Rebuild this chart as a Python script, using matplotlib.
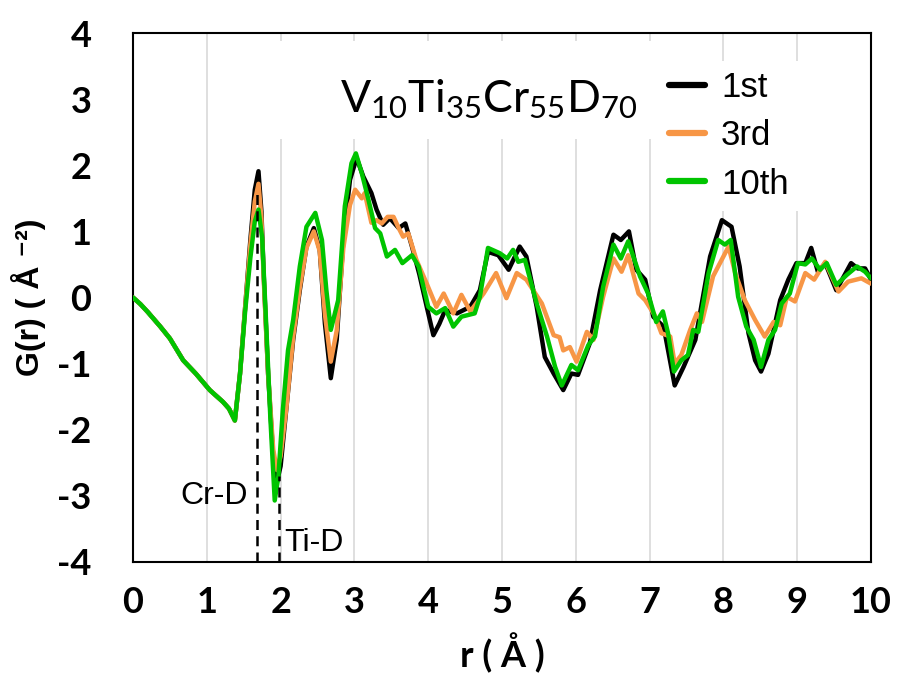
import matplotlib
matplotlib.use("Agg")
import matplotlib.pyplot as plt
from matplotlib.patches import Rectangle

plt.rcParams["mathtext.fontset"] = "custom"
plt.rcParams["mathtext.rm"] = "Lato"

# shared low-r part (all three cycles overlap)
r_common = [0.00, 0.10, 0.20, 0.37, 0.50, 0.68, 0.85, 1.04, 1.22, 1.30, 1.38]
g_common = [0.00, -0.10, -0.22, -0.44, -0.62, -0.95, -1.15, -1.40, -1.58, -1.68, -1.86]

r_1st = [1.45, 1.52, 1.59, 1.65, 1.70, 1.74, 1.77, 1.83, 1.90, 1.95, 2.00, 2.08,
         2.17, 2.26, 2.35, 2.45, 2.53, 2.60, 2.68, 2.76, 2.85, 2.94, 3.03, 3.12,
         3.23, 3.30, 3.39, 3.48, 3.60, 3.69, 3.78, 3.88, 3.98, 4.07, 4.15, 4.23,
         4.39, 4.57, 4.70, 4.81, 4.95, 5.09, 5.24, 5.33, 5.47, 5.58, 5.70, 5.83,
         5.94, 6.03, 6.19, 6.33, 6.51, 6.61, 6.72, 6.82, 6.94, 7.05, 7.19, 7.34,
         7.46, 7.62, 7.82, 7.98, 8.11, 8.22, 8.34, 8.43, 8.51, 8.61, 8.77, 8.88,
         8.99, 9.11, 9.19, 9.28, 9.38, 9.53, 9.73, 9.82, 9.92, 10.0]
g_1st = [-1.15, -0.14, 0.87, 1.63, 1.91, 1.30, 0.37, -1.15, -2.41, -2.79, -2.55, -1.65,
         -0.64, 0.11, 0.77, 1.05, 0.72, -0.39, -1.22, -0.64, 0.87, 1.78, 2.11, 1.83,
         1.58, 1.33, 1.10, 1.20, 1.05, 1.12, 0.77, 0.35, -0.14, -0.57, -0.40, -0.19,
         -0.24, -0.14, 0.11, 0.69, 0.64, 0.42, 0.77, 0.62, -0.14, -0.90, -1.15, -1.40,
         -1.15, -1.17, -0.69, 0.11, 0.95, 0.87, 1.00, 0.42, 0.27, -0.29, -0.44, -1.33,
         -1.05, -0.64, 0.62, 1.17, 1.07, 0.47, -0.54, -0.95, -1.12, -0.85, -0.04, 0.27,
         0.52, 0.52, 0.75, 0.39, 0.52, 0.11, 0.52, 0.44, 0.44, 0.27]

r_3rd = [1.45, 1.52, 1.59, 1.65, 1.70, 1.74, 1.77, 1.83, 1.90, 1.95, 2.00, 2.08,
         2.17, 2.26, 2.35, 2.45, 2.53, 2.60, 2.68, 2.76, 2.85, 2.94, 3.01, 3.10,
         3.14, 3.23, 3.30, 3.37, 3.45, 3.53, 3.60, 3.66, 3.73, 3.84, 3.98, 4.11,
         4.21, 4.34, 4.45, 4.57, 4.75, 4.92, 5.06, 5.20, 5.33, 5.54, 5.70, 5.78,
         5.83, 5.92, 6.01, 6.15, 6.24, 6.37, 6.51, 6.62, 6.71, 6.85, 6.94, 7.07,
         7.16, 7.28, 7.34, 7.43, 7.55, 7.64, 7.71, 7.86, 8.07, 8.16, 8.29, 8.43,
         8.56, 8.68, 8.77, 8.86, 8.97, 9.11, 9.23, 9.38, 9.56, 9.69, 9.87, 10.0]
g_3rd = [-1.15, -0.14, 0.80, 1.45, 1.72, 1.20, 0.30, -1.15, -2.30, -2.61, -2.40, -1.65,
         -0.60, 0.15, 0.75, 1.00, 0.70, -0.25, -0.97, -0.50, 0.75, 1.40, 1.63, 1.50,
         1.58, 1.13, 1.17, 1.12, 1.22, 1.22, 1.05, 0.92, 0.97, 0.57, 0.21, -0.14,
         0.06, -0.24, 0.04, -0.21, 0.06, 0.37, -0.01, 0.37, 0.27, -0.09, -0.57, -0.60,
         -0.80, -0.75, -0.97, -0.52, -0.64, 0.01, 0.59, 0.39, 0.64, 0.06, -0.04, -0.27,
         -0.54, -0.59, -1.00, -0.87, -0.49, -0.24, -0.37, 0.32, 0.77, 0.37, -0.04, -0.34,
         -0.59, -0.37, -0.42, 0.01, -0.06, 0.37, 0.27, 0.54, 0.09, 0.24, 0.29, 0.21]

r_10th = [1.45, 1.52, 1.59, 1.65, 1.70, 1.75, 1.80, 1.86, 1.92, 1.97, 2.03, 2.10,
          2.17, 2.26, 2.35, 2.47, 2.56, 2.62, 2.68, 2.78, 2.87, 2.96, 3.02, 3.10,
          3.19, 3.28, 3.35, 3.44, 3.55, 3.65, 3.78, 3.87, 4.00, 4.11, 4.23, 4.34,
          4.45, 4.63, 4.70, 4.81, 4.97, 5.07, 5.15, 5.22, 5.31, 5.47, 5.61, 5.72,
          5.81, 5.94, 6.03, 6.17, 6.26, 6.37, 6.51, 6.61, 6.71, 6.87, 6.98, 7.09,
          7.18, 7.25, 7.33, 7.43, 7.52, 7.59, 7.66, 7.80, 7.93, 8.02, 8.10, 8.20,
          8.31, 8.41, 8.51, 8.61, 8.70, 8.79, 8.90, 9.01, 9.11, 9.20, 9.31, 9.40,
          9.53, 9.67, 9.81, 9.92, 10.0]
g_10th = [-1.15, -0.20, 0.60, 1.15, 1.33, 0.90, -0.30, -1.80, -3.07, -2.70, -1.70, -0.80,
          -0.34, 0.47, 1.07, 1.28, 0.87, 0.11, -0.49, -0.04, 1.38, 2.03, 2.18, 1.88,
          1.48, 1.05, 0.97, 0.62, 0.72, 0.52, 0.64, 0.47, -0.14, -0.24, -0.16, -0.44,
          -0.29, -0.24, 0.01, 0.75, 0.67, 0.59, 0.72, 0.54, 0.57, -0.09, -0.59, -1.05,
          -1.33, -1.02, -1.10, -0.72, -0.59, 0.16, 0.80, 0.59, 0.85, 0.32, 0.06, -0.37,
          -0.21, -0.54, -1.12, -0.95, -0.87, -0.49, -0.52, 0.37, 0.87, 0.80, 0.87, 0.01,
          -0.44, -0.64, -1.05, -0.64, -0.49, -0.09, 0.06, 0.52, 0.50, 0.59, 0.42, 0.52,
          0.19, 0.34, 0.47, 0.39, 0.29]

# bond markers
bond_r = [1.68, 1.98]
bond_top = [1.6, -2.7]
bond_labels = ["Cr-D", "Ti-D"]

xticks = list(range(0, 11))
yticks = list(range(-4, 5))

fig = plt.figure(figsize=(8.97, 6.91), dpi=100)
ax = fig.add_axes([0.1483, 0.1867, 0.8227, 0.7655])

line_kw = dict(lw=3.2, solid_joinstyle="round", solid_capstyle="round")
ax.plot(r_common + r_1st, g_common + g_1st, color="black", label="1st", zorder=3, **line_kw)
ax.plot(r_common + r_3rd, g_common + g_3rd, color="#F79646", label="3rd", zorder=3, **line_kw)
ax.plot(r_common + r_10th, g_common + g_10th, color="#00C400", label="10th", zorder=4, **line_kw)

ax.vlines(bond_r, -4, bond_top, colors="black", linestyles=(0, (4, 2.5)), lw=1.8, zorder=5)
ax.text(bond_r[0] - 0.12, -3.0, bond_labels[0], ha="right", va="center",
        fontsize=23, family="Liberation Sans")
ax.text(bond_r[1] + 0.07, -3.72, bond_labels[1], ha="left", va="center",
        fontsize=23, family="Liberation Sans")

ax.set_xlim(0, 10)
ax.set_ylim(-4, 4)
ax.set_xticks(xticks)
ax.set_yticks(yticks)
ax.set_xticklabels([str(v) for v in xticks], family="Lato", weight="bold", fontsize=26)
ax.set_yticklabels([str(v) for v in yticks], family="Lato", weight="bold", fontsize=26)
ax.tick_params(axis="x", length=0, pad=17)
ax.tick_params(axis="y", length=0, pad=30)

ax.grid(axis="x", color="#d9d9d9", lw=1.2, zorder=0)
ax.set_axisbelow(True)
for s in ax.spines.values():
    s.set_linewidth(1.5)
    s.set_color("black")

# white box behind the title hides the gridlines
ax.add_patch(Rectangle((0.17, 0.80), 0.58, 0.185, transform=ax.transAxes,
                       facecolor="white", edgecolor="none", zorder=1))
ax.text(0.482, 0.875, r"$\mathrm{V_{10}Ti_{35}Cr_{55}D_{70}}$", transform=ax.transAxes,
        ha="center", va="center", fontsize=32, zorder=6)

leg = ax.legend(loc="upper left", bbox_to_anchor=(0.712, 0.948),
                frameon=True, framealpha=1, facecolor="white", edgecolor="none",
                handlelength=1.05, handletextpad=0.45, labelspacing=0.44,
                borderpad=0.3, borderaxespad=0, fancybox=False,
                prop={"family": "Liberation Sans", "size": 25})
for line in leg.get_lines():
    line.set_linewidth(4.5)

ax.set_xlabel("r ( Å )", family="Lato", weight="bold", fontsize=26, labelpad=10)
ax.set_ylabel("G(r) ( Å ⁻²)", family=["Liberation Sans", "DejaVu Sans"],
              weight="bold", fontsize=23, labelpad=8)

fig.savefig("out.png", dpi=100)
